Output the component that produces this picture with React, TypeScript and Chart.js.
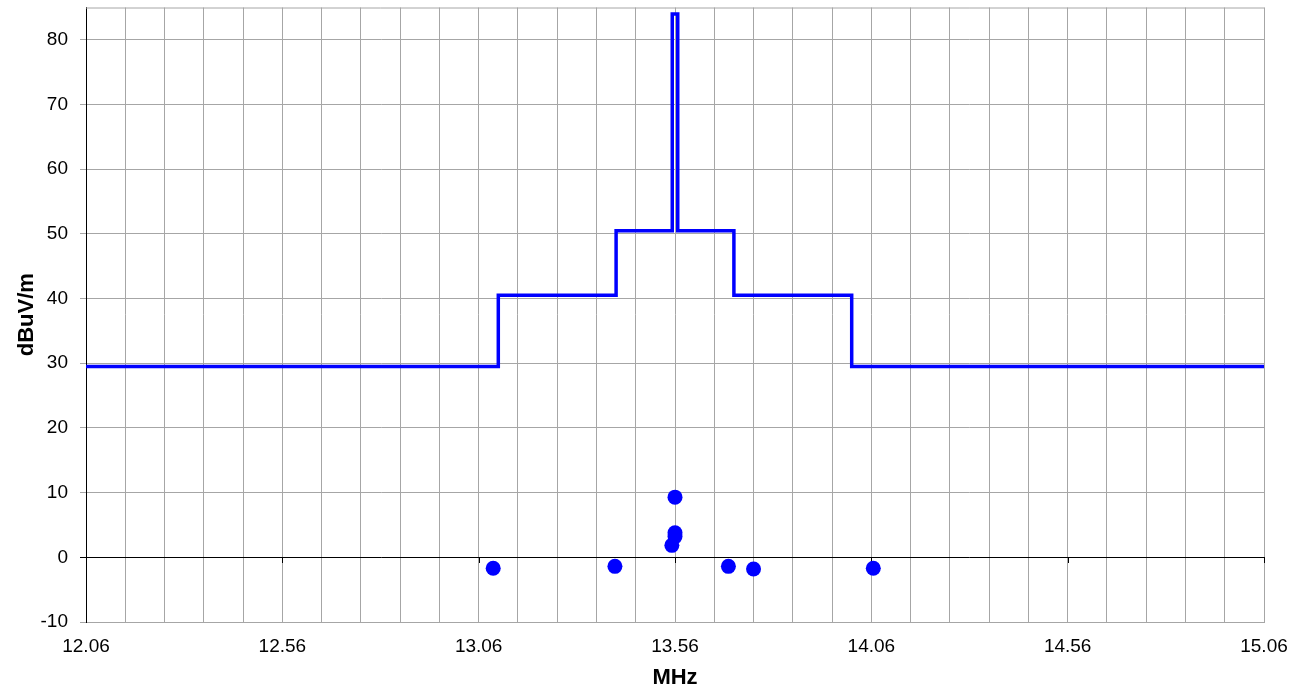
import React, { useEffect, useRef } from "react";
import { Chart, registerables } from "chart.js";

Chart.register(...registerables);

// Limit line (stepped, value changes at each frequency)
const limitFreqs = [12.06, 13.11, 13.41, 13.553, 13.567, 13.71, 14.01, 15.06];
const limitLevels = [29.5, 40.5, 50.5, 84, 50.5, 40.5, 29.5, 29.5];

// Measured emissions
const measFreqs = [13.097, 13.407, 13.552, 13.56, 13.56, 13.56, 13.696, 13.76, 14.065];
const measLevels = [-1.7, -1.4, 1.85, 3.2, 3.8, 9.3, -1.4, -1.8, -1.7];

// Axes
const xMin = 12.06;
const xMax = 15.06;
const xGridStep = 0.1;
const xTickLabels = ["12.06", "12.56", "13.06", "13.56", "14.06", "14.56", "15.06"];
const yMin = -10;
const yMax = 85;
const yTickValues = [-10, 0, 10, 20, 30, 40, 50, 60, 70, 80];

const FONT = "'Liberation Sans', Arial, sans-serif";
const GRID = "#a6a6a6";

const frame = {
  id: "frame",
  beforeDatasetsDraw(chart: any) {
    const { ctx, chartArea, scales } = chart;
    const x = scales.x;
    const y = scales.y;
    ctx.save();
    ctx.strokeStyle = GRID;
    ctx.lineWidth = 1;
    ctx.beginPath();
    ctx.moveTo(chartArea.left, chartArea.top + 0.5);
    ctx.lineTo(chartArea.right + 0.5, chartArea.top + 0.5);
    ctx.lineTo(chartArea.right + 0.5, chartArea.bottom);
    ctx.stroke();
    // tick marks on the zero line
    const y0 = Math.round(y.getPixelForValue(0));
    ctx.strokeStyle = "#000";
    ctx.beginPath();
    xTickLabels.forEach((l) => {
      const px = Math.round(x.getPixelForValue(parseFloat(l))) + 0.5;
      ctx.moveTo(px, y0);
      ctx.lineTo(px, y0 + 6);
    });
    ctx.stroke();
    ctx.restore();
  },
};

export default function App() {
  const ref = useRef<HTMLCanvasElement>(null);
  useEffect(() => {
    if (!ref.current) return;
    const chart = new Chart(ref.current, {
      type: "line",
      data: {
        datasets: [
          {
            type: "line",
            data: limitFreqs.map((f, i) => ({ x: f, y: limitLevels[i] })),
            stepped: "before",
            borderColor: "#0000ff",
            borderWidth: 3.5,
            borderJoinStyle: "miter",
            pointRadius: 0,
            fill: false,
          },
          {
            type: "scatter",
            data: measFreqs.map((f, i) => ({ x: f, y: measLevels[i] })),
            backgroundColor: "#0000ff",
            borderColor: "#0000ff",
            pointRadius: 7.5,
            borderWidth: 0,
            showLine: false,
          },
        ],
      } as any,
      plugins: [frame],
      options: {
        animation: false,
        responsive: false,
        devicePixelRatio: 1,
        layout: { padding: { top: 7, right: 37, left: 0, bottom: 0 } },
        plugins: { legend: { display: false }, tooltip: { enabled: false } },
        scales: {
          x: {
            type: "linear",
            min: xMin,
            max: xMax,
            afterBuildTicks: (scale: any) => {
              const n = Math.round((xMax - xMin) / xGridStep);
              const t = [];
              for (let i = 0; i <= n; i++) t.push({ value: xMin + i * xGridStep });
              scale.ticks = t;
            },
            afterFit: (scale: any) => {
              scale.height = 67;
              scale.paddingLeft = 0;
              scale.paddingRight = 0;
            },
            ticks: {
              autoSkip: false,
              maxRotation: 0,
              padding: 13,
              color: "#000",
              font: { family: FONT, size: 19 },
              callback: (v: any) => {
                const lab = xTickLabels.find((l) => Math.abs(parseFloat(l) - v) < 1e-6);
                return lab ?? "";
              },
            },
            grid: { color: GRID, drawTicks: false, lineWidth: 1 },
            border: { color: GRID },
            title: {
              display: true,
              text: "MHz",
              color: "#000",
              font: { family: FONT, size: 22, weight: "bold", lineHeight: 1.0 },
              padding: { top: 0, bottom: 0 },
            },
          },
          y: {
            type: "linear",
            min: yMin,
            max: yMax,
            afterBuildTicks: (scale: any) => {
              scale.ticks = yTickValues.map((v) => ({ value: v }));
            },
            afterFit: (scale: any) => {
              scale.width = 86;
              scale.paddingTop = 0;
              scale.paddingBottom = 0;
            },
            ticks: {
              padding: 12,
              color: "#000",
              font: { family: FONT, size: 19 },
            },
            grid: {
              color: (c: any) => (c.tick && c.tick.value === 0 ? "#000" : GRID),
              tickLength: 6,
              lineWidth: 1,
            },
            border: { color: "#000" },
            title: {
              display: true,
              text: "dBuV/m",
              color: "#000",
              font: { family: FONT, size: 22, weight: "bold", lineHeight: 1.2 },
              padding: { top: 14, bottom: 0 },
            },
          },
        },
      } as any,
    });
    return () => chart.destroy();
  }, []);
  return (
    <div style={{ position: "fixed", left: 0, top: 0, width: 1301, height: 689, background: "#fff" }}>
      <canvas ref={ref} width={1301} height={689} />
    </div>
  );
}
